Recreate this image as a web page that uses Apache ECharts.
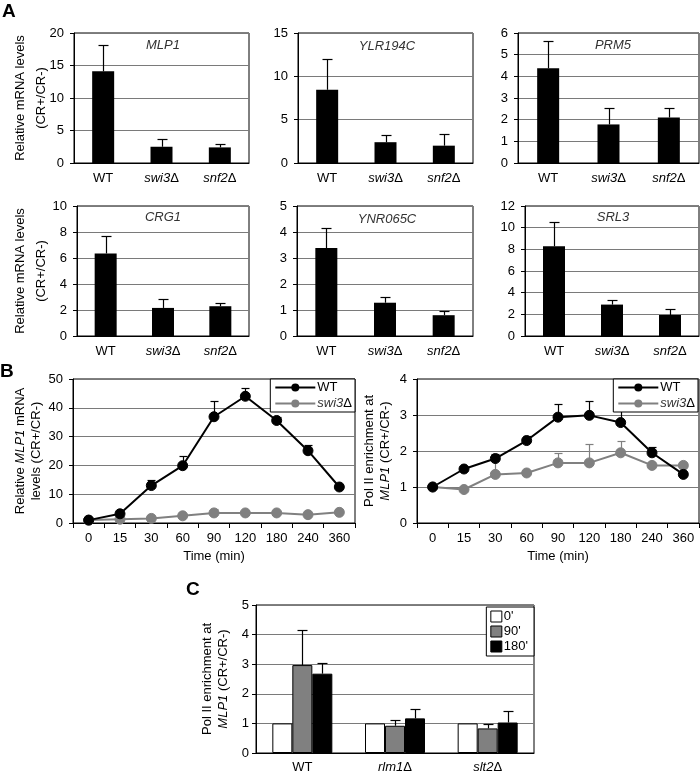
<!DOCTYPE html>
<html><head><meta charset="utf-8">
<script src="https://cdn.jsdelivr.net/npm/echarts@6/dist/echarts.min.js"></script>
<style>html,body{margin:0;padding:0;background:#fff}#c{width:700px;height:776px}</style>
</head><body><div id="c"></div>
<script>
// ---------- Panel A data ----------
var strains = ['WT', 'swi3Δ', 'snf2Δ'];
var mlp1 = [14.1, 2.5, 2.4];      var mlp1Err = [18.2, 3.7, 2.9];
var ylr194c = [8.45, 2.4, 2.0];   var ylr194cErr = [12.0, 3.2, 3.35];
var prm5 = [4.37, 1.78, 2.1];     var prm5Err = [5.61, 2.52, 2.52];
var crg1 = [6.35, 2.16, 2.29];    var crg1Err = [7.71, 2.83, 2.57];
var ynr065c = [3.38, 1.28, 0.8];  var ynr065cErr = [4.15, 1.49, 0.97];
var srl3 = [8.28, 2.9, 1.94];     var srl3Err = [10.5, 3.35, 2.46];

// ---------- Panel B data ----------
var times = ['0', '15', '30', '60', '90', '120', '180', '240', '360'];
var mrnaWT = [1, 3.2, 13, 19.9, 36.9, 44, 35.6, 25.1, 12.5];
var mrnaWTErr = [1, 3.6, 14.8, 23.3, 42.3, 46.8, 36.8, 27.2, 13.3];
var mrnaSwi3 = [1, 1.3, 1.6, 2.5, 3.5, 3.5, 3.5, 2.9, 3.7];
var mrnaSwi3Err = [1, 1.3, 1.6, 2.5, 4.9, 3.5, 3.5, 2.9, 5.0];
var polWT = [1, 1.5, 1.79, 2.29, 2.94, 2.99, 2.79, 1.95, 1.35];
var polWTErr = [1, 1.56, 1.92, 2.43, 3.31, 3.39, 3.18, 2.1, 1.35];
var polSwi3 = [1, 0.93, 1.35, 1.39, 1.67, 1.67, 1.95, 1.6, 1.6];
var polSwi3Err = [1, 0.93, 1.75, 1.39, 1.95, 2.2, 2.28, 1.6, 1.68];

// ---------- Panel C data ----------
var strainsC = ['WT', 'rlm1Δ', 'slt2Δ'];
var t0 = [1, 1, 1];
var t90 = [2.97, 0.92, 0.83];    var t90Err = [4.17, 1.1, 0.97];
var t180 = [2.68, 1.17, 1.03];   var t180Err = [3.05, 1.5, 1.42];

var FF = '"Liberation Sans", Arial, sans-serif';
var GRID_GRAY = '#7a7a7a';

var chart = echarts.init(document.getElementById('c'), null, {renderer: 'canvas'});

function strainFmt(v) {
  if (v === 'WT') return v;
  return '{i|' + v.slice(0, -1) + '}Δ';
}
var richI = {i: {fontStyle: 'italic', fontSize: 13, fontFamily: FF, color: '#000'}};

function errSeries(gi, vals, errs, offset, cap, color) {
  return {
    type: 'custom', xAxisIndex: gi, yAxisIndex: gi, z: 1, silent: true,
    data: vals.map(function (v, i) { return [i, v, errs[i]]; }),
    renderItem: function (params, api) {
      if (api.value(2) <= api.value(1)) return null;
      var p0 = api.coord([api.value(0), api.value(1)]);
      var p1 = api.coord([api.value(0), api.value(2)]);
      var x = Math.round(p0[0] + offset) + 0.5;
      var yt = Math.round(p1[1]) + 0.5;
      return {type: 'group', children: [
        {type: 'line', shape: {x1: x, y1: p0[1], x2: x, y2: yt}, style: {stroke: color, lineWidth: 1.2}},
        {type: 'line', shape: {x1: x - cap, y1: yt, x2: x + cap, y2: yt}, style: {stroke: color, lineWidth: 1.2}}
      ]};
    }
  };
}

var grids = [
  {left: 74, top: 33, width: 175, height: 130},
  {left: 298, top: 33, width: 175, height: 130},
  {left: 518, top: 33, width: 181, height: 130},
  {left: 77, top: 206, width: 172, height: 130},
  {left: 297, top: 206, width: 176, height: 130},
  {left: 525, top: 206, width: 174, height: 130},
  {left: 73, top: 379, width: 282, height: 144},
  {left: 417, top: 379, width: 282, height: 144},
  {left: 256, top: 605, width: 278, height: 148}
];
grids.forEach(function (g) { g.show = true; g.borderColor = '#000'; g.borderWidth = 1; g.backgroundColor = 'transparent'; });

var aPanels = [
  {vals: mlp1, errs: mlp1Err, max: 20, step: 5, gene: 'MLP1', gx: 163, gy: 45},
  {vals: ylr194c, errs: ylr194cErr, max: 15, step: 5, gene: 'YLR194C', gx: 387, gy: 46},
  {vals: prm5, errs: prm5Err, max: 6, step: 1, gene: 'PRM5', gx: 613, gy: 45},
  {vals: crg1, errs: crg1Err, max: 10, step: 2, gene: 'CRG1', gx: 163, gy: 217},
  {vals: ynr065c, errs: ynr065cErr, max: 5, step: 1, gene: 'YNR065C', gx: 387, gy: 219},
  {vals: srl3, errs: srl3Err, max: 12, step: 2, gene: 'SRL3', gx: 613, gy: 217}
];

var xAxes = [], yAxes = [], series = [], graphics = [];

function yAxisBase(gi, max, step, margin) {
  return {
    type: 'value', gridIndex: gi, min: 0, max: max, interval: step,
    nameMoveOverlap: false,
    axisLine: {show: true, lineStyle: {color: '#000', width: 1}},
    axisTick: {show: true, length: 4, lineStyle: {color: '#000'}},
    axisLabel: {fontSize: 13, fontFamily: FF, color: '#000', margin: margin},
    splitLine: {show: true, lineStyle: {color: GRID_GRAY, width: 1}}
  };
}

aPanels.forEach(function (p, gi) {
  xAxes.push({
    type: 'category', gridIndex: gi, data: strains,
    axisLine: {show: true, lineStyle: {color: '#000', width: 1}},
    axisTick: {show: false},
    axisLabel: {fontSize: 13, fontFamily: FF, color: '#000', margin: 9, interval: 0, hideOverlap: false,
      formatter: strainFmt, rich: richI}
  });
  var ya = yAxisBase(gi, p.max, p.step, 10);
  if (gi === 0 || gi === 3) {
    ya.name = 'Relative mRNA levels\n(CR+/CR-)';
    ya.nameLocation = 'middle';
    ya.nameRotate = 90;
    ya.nameGap = gi === 0 ? 22 : 25;
    ya.nameTextStyle = {fontSize: 13, fontFamily: FF, color: '#000', lineHeight: 21};
  }
  yAxes.push(ya);
  series.push({
    type: 'bar', name: 'A' + gi, xAxisIndex: gi, yAxisIndex: gi, data: p.vals,
    barWidth: 22, itemStyle: {color: '#000'}, z: 2, silent: true
  });
  series.push(errSeries(gi, p.vals, p.errs, 0, 5, '#000'));
  graphics.push({type: 'text', x: p.gx, y: p.gy, style: {
    text: p.gene, font: 'italic 13px ' + FF, fill: '#333', align: 'center', verticalAlign: 'middle'}});
});

// Panel B
[6, 7].forEach(function (gi) {
  xAxes.push({
    type: 'category', gridIndex: gi, data: times, boundaryGap: true,
    nameMoveOverlap: false,
    axisLine: {show: true, lineStyle: {color: '#000', width: 1}},
    axisTick: {show: true, interval: 0, length: 5, lineStyle: {color: '#000'}},
    axisLabel: {fontSize: 13, fontFamily: FF, color: '#000', margin: 9, interval: 0, hideOverlap: false},
    name: 'Time (min)', nameLocation: 'middle', nameGap: 27,
    nameTextStyle: {fontSize: 13, fontFamily: FF, color: '#000'}
  });
});
var nameStyle16 = {fontSize: 13, fontFamily: FF, color: '#000', lineHeight: 16,
  rich: {n: {fontSize: 13, fontFamily: FF, color: '#000', lineHeight: 16},
         i: {fontSize: 13, fontFamily: FF, color: '#000', fontStyle: 'italic', lineHeight: 16}}};
var yb1 = yAxisBase(6, 50, 10, 10);
yb1.name = '{n|Relative }{i|MLP1}{n| mRNA}\n{n|levels (CR+/CR-)}';
yb1.nameLocation = 'middle'; yb1.nameRotate = 90; yb1.nameGap = 29;
yb1.nameTextStyle = JSON.parse(JSON.stringify(nameStyle16));
yAxes.push(yb1);
var yb2 = yAxisBase(7, 4, 1, 10);
yb2.name = '{n|Pol II enrichment at}\n{i|MLP1}{n| (CR+/CR-)}';
yb2.nameLocation = 'middle'; yb2.nameRotate = 90; yb2.nameGap = 24;
yb2.nameTextStyle = JSON.parse(JSON.stringify(nameStyle16));
yAxes.push(yb2);

function lineSeries(name, gi, data, color) {
  return {
    type: 'line', name: name, xAxisIndex: gi, yAxisIndex: gi, data: data,
    symbol: 'circle', symbolSize: 10, z: 3, silent: true,
    lineStyle: {color: color, width: 2},
    itemStyle: {color: color, borderColor: color},
    emphasis: {disabled: true}
  };
}
series.push(errSeries(6, mrnaSwi3, mrnaSwi3Err, 0, 4, '#808080'));
series.push(errSeries(6, mrnaWT, mrnaWTErr, 0, 4, '#000'));
series.push(lineSeries('swi3Δ', 6, mrnaSwi3, '#808080'));
series.push(lineSeries('WT', 6, mrnaWT, '#000'));
series.push(errSeries(7, polSwi3, polSwi3Err, 0, 4, '#808080'));
series.push(errSeries(7, polWT, polWTErr, 0, 4, '#000'));
series.push(lineSeries('swi3Δ', 7, polSwi3, '#808080'));
series.push(lineSeries('WT', 7, polWT, '#000'));

// Panel C
xAxes.push({
  type: 'category', gridIndex: 8, data: strainsC,
  axisLine: {show: true, lineStyle: {color: '#000', width: 1}},
  axisTick: {show: false},
  axisLabel: {fontSize: 13, fontFamily: FF, color: '#000', margin: 8, interval: 0, hideOverlap: false,
    formatter: strainFmt, rich: richI}
});
var yc = yAxisBase(8, 5, 1, 7);
yc.name = '{n|Pol II enrichment at}\n{i|MLP1}{n| (CR+/CR-)}';
yc.nameLocation = 'middle'; yc.nameRotate = 90; yc.nameGap = 25;
yc.nameTextStyle = JSON.parse(JSON.stringify(nameStyle16));
yAxes.push(yc);

var cNames = ["0'", "90'", "180'"];
var cColors = ['#ffffff', '#808080', '#000000'];
[t0, t90, t180].forEach(function (d, k) {
  series.push({
    type: 'bar', name: cNames[k], xAxisIndex: 8, yAxisIndex: 8, data: d,
    barWidth: 20, barGap: '0%', silent: true, z: 2,
    itemStyle: {color: cColors[k], borderColor: '#000', borderWidth: 1}
  });
});
series.push(errSeries(8, t90, t90Err, 0, 5, '#000'));
series.push(errSeries(8, t180, t180Err, 20, 5, '#000'));

// Panel letters
graphics.push({type: 'text', x: 2, y: 2, style: {text: 'A', font: 'bold 19px ' + FF, fill: '#000'}});
graphics.push({type: 'text', x: 0, y: 362, style: {text: 'B', font: 'bold 19px ' + FF, fill: '#000'}});
graphics.push({type: 'text', x: 186, y: 580, style: {text: 'C', font: 'bold 19px ' + FF, fill: '#000'}});

function legendB(right) {
  return {
    show: true, orient: 'vertical', right: right, top: 379,
    data: ['WT', 'swi3Δ'], itemWidth: 40, itemHeight: 10, itemGap: 3,
    padding: [2, 3, 2, 4], borderColor: '#000', borderWidth: 1, borderRadius: 0,
    backgroundColor: '#fff', selectedMode: false,
    textStyle: {fontSize: 13, fontFamily: FF, color: '#000', padding: [0, 0, 0, -3],
      rich: {i: {fontSize: 13, fontFamily: FF, color: '#333', fontStyle: 'italic'}}},
    formatter: function (n) { return n === 'swi3Δ' ? '{i|swi3}Δ' : n; }
  };
}

var option = {
  animation: false,
  backgroundColor: '#fff',
  grid: grids,
  xAxis: xAxes,
  yAxis: yAxes,
  legend: [
    legendB(345),
    legendB(2),
    {
      show: true, orient: 'vertical', right: 166, top: 607,
      data: cNames, icon: 'rect', itemWidth: 11, itemHeight: 11, itemGap: 2,
      padding: [3, 6, 3, 4], borderColor: '#000', borderWidth: 1, borderRadius: 0,
      backgroundColor: '#fff', selectedMode: false,
      itemStyle: {borderColor: '#000', borderWidth: 1},
      textStyle: {fontSize: 13, fontFamily: FF, color: '#000', padding: [0, 0, 0, -3]}
    }
  ],
  graphic: graphics,
  series: series
};
chart.setOption(option);
</script>
</body></html>
